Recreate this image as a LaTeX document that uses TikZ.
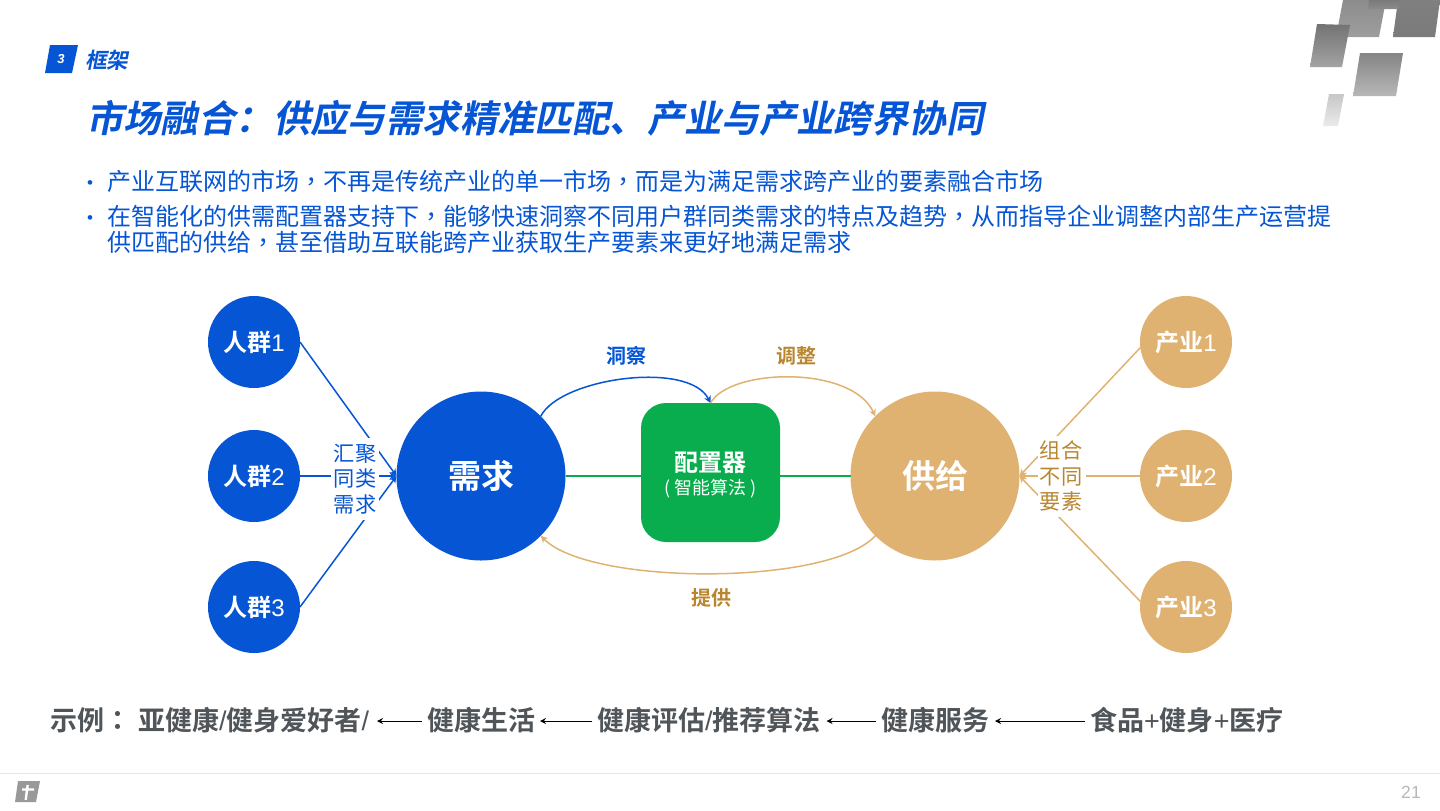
\documentclass[tikz,border=0pt]{standalone}
\usepackage{fontspec}
\usetikzlibrary{arrows.meta}
\setmainfont{Liberation Sans}
\newfontfamily\cjk{Noto Sans CJK SC}
\newfontfamily\cjkbf{Noto Sans CJK SC Bold}
\newfontfamily\cjkit[FakeSlant=0.2]{Noto Sans CJK SC Bold}
\newfontfamily\cjktc{Noto Sans CJK TC}
\newfontfamily\cjktcbf{Noto Sans CJK TC Bold}
\newfontfamily\lat{Liberation Sans}
\newcommand{\cm}{{\cjktc ，}}
\definecolor{mainblue}{HTML}{0555D4}
\definecolor{tan}{HTML}{E0B271}
\definecolor{tandark}{HTML}{B9862F}
\definecolor{mgreen}{HTML}{0AAD4E}
\definecolor{slate}{HTML}{50555A}
\tikzset{
  x=0.5pt,y=-0.5pt,
  every node/.style={inner sep=0pt,outer sep=0pt},
  hub/.style={circle,minimum size=84.5pt,text=white},
  bluelink/.style={draw=mainblue,line width=0.75pt,-{Stealth[length=3.5pt,width=3.5pt]}},
  tanlink/.style={draw=tan,line width=0.75pt,-{Stealth[length=3.5pt,width=3.5pt]}},
  greenlink/.style={draw=mgreen,line width=1pt},
  bodytext/.style={anchor=west,text=mainblue,font=\cjk\fontsize{12}{12}\selectfont,text height=10pt,text depth=2pt},
  example/.style={anchor=west,text=slate,font=\cjkbf\fontsize{13.5}{13.5}\selectfont,text height=11.5pt,text depth=2pt},
  flow/.style={draw=black,line width=0.5pt,-{Stealth[length=3pt,width=3pt]}}
}
\begin{document}
\begin{tikzpicture}
\useasboundingbox (0,0) rectangle (1440,810);
% top-right blocks
\shade[top color=black!45,bottom color=black!38] (1343,0)--(1386,0)--(1379,37)--(1336,37)--cycle;
\shade[top color=black!55,bottom color=black!36] (1317,24)--(1350,25)--(1342,67)--(1310,67)--cycle;
\shade[top color=black!50,bottom color=black!52] (1398,0)--(1440,0)--(1435,37)--(1393,37)--cycle;
\shade[top color=black!52,bottom color=black!45] (1369,0)--(1400,0)--(1398,9)--(1368,9)--cycle;
\shade[top color=black!48,bottom color=black!28] (1360,53)--(1403,53)--(1396,96)--(1353,96)--cycle;
\shade[top color=black!22,bottom color=black!8] (1329,94)--(1344,94)--(1338,126)--(1323,126)--cycle;
% header
\fill[mainblue] (50,45)--(78,45)--(72,73)--(45,73)--cycle;
\node[text=white,font=\lat\bfseries\itshape\fontsize{6.5}{6.5}\selectfont] (num) at (61,59) {3};
\node[anchor=west,text=mainblue,font=\cjkit\fontsize{10.8}{11}\selectfont] (sec) at (85,60) {框架};
\node[anchor=west,text=mainblue,font=\cjkit\fontsize{18.7}{19}\selectfont] (title) at (86,118) {市场融合：供应与需求精准匹配、产业与产业跨界协同};
% bullets
\node[text=mainblue,font=\lat\fontsize{8.5}{8.5}\selectfont] (b1) at (90,184.5) {•};
\node[text=mainblue,font=\lat\fontsize{8.5}{8.5}\selectfont] (b2) at (90,219.5) {•};
\node[bodytext] (t1) at (107,182) {产业互联网的市场\cm 不再是传统产业的单一市场\cm 而是为满足需求跨产业的要素融合市场};
\node[bodytext] (t2) at (107,217) {在智能化的供需配置器支持下\cm 能够快速洞察不同用户群同类需求的特点及趋势\cm 从而指导企业调整内部生产运营提};
\node[bodytext] (t3) at (107,243) {供匹配的供给\cm 甚至借助互联能跨产业获取生产要素来更好地满足需求};
% nodes
\node[hub,fill=mainblue,font=\cjkbf\fontsize{16.5}{17}\selectfont] (need) at (481,476) {需求};
\node[hub,fill=tan,font=\cjkbf\fontsize{16.5}{17}\selectfont] (supply) at (935,476) {供给};
\node[fill=mgreen,rounded corners=12.5pt,minimum width=69.5pt,minimum height=69.5pt] (box) at (710.5,472.5) {};
\node[text=white,font=\cjkbf\fontsize{12}{12}\selectfont] (boxa) at (710.5,463) {配置器};
\node[text=white,font=\cjk\fontsize{9}{9}\selectfont] (boxb) at (710.5,488.5) {( 智能算法 )};
\foreach \n/\y/\t in {p1/342/1,p2/476/2,p3/607/3}
  \node[circle,fill=mainblue,minimum size=46pt,text=white] (\n) at (254,\y) {{\cjkbf\fontsize{12}{12}\selectfont 人群}{\lat\fontsize{12}{12}\selectfont\t}};
\foreach \n/\y/\t in {i1/342/1,i2/476/2,i3/607/3}
  \node[circle,fill=tan,minimum size=46pt,text=white] (\n) at (1186,\y) {{\cjkbf\fontsize{12}{12}\selectfont 产业}{\lat\fontsize{12}{12}\selectfont\t}};
% connectors
\draw[bluelink] (p1.east) -- (need.west);
\draw[bluelink] (p2.east) -- (need.west);
\draw[bluelink] (p3.east) -- (need.west);
\draw[tanlink] (i1.187) -- (supply.east);
\draw[tanlink] (i2.west) -- (supply.east);
\draw[tanlink] (i3.173) -- (supply.east);
\draw[greenlink] (need.east) -- (need.east -| box.west);
\draw[greenlink] (supply.west -| box.east) -- (supply.west);
\draw[bluelink] (need.45) .. controls (560,378) and (689,360) .. (box.north);
\draw[tanlink] (box.north) .. controls (730,368) and (852,365) .. (supply.135);
\draw[tanlink] (supply.225) .. controls (830,586) and (590,586) .. (need.315);
% side labels
\node[fill=white,minimum width=24pt,minimum height=41pt] (lmask) at (355,479) {};
\node[fill=white,minimum width=24pt,minimum height=40.5pt] (rmask) at (1062,476) {};
\node[text=mainblue,font=\cjk\fontsize{10.6}{12.8}\selectfont,align=center] (lab1) at (355,479) {汇聚\\同类\\需求};
\node[text=tandark,font=\cjk\fontsize{10.6}{12.8}\selectfont,align=center] (lab2) at (1061,476) {组合\\不同\\要素};
\node[text=mainblue,font=\cjkbf\fontsize{10}{10}\selectfont] (l3) at (626,356) {洞察};
\node[text=tandark,font=\cjkbf\fontsize{10}{10}\selectfont] (l4) at (796,356) {调整};
\node[text=tandark,font=\cjkbf\fontsize{10}{10}\selectfont] (l5) at (711,598) {提供};
% example row
\node[example] (e0) at (50,721) {示例{\cjktcbf ：}};
\node[example] (e1) at (138,721) {亚健康{\lat\mdseries /}健身爱好者{\lat\mdseries /}};
\node[example] (e2) at (427,721) {健康生活};
\node[example] (e3) at (597,721) {健康评估{\lat\mdseries /}推荐算法};
\node[example] (e4) at (881,721) {健康服务};
\node[example] (e5) at (1090,721) {食品{\lat\mdseries +}健身{\lat\mdseries +}医疗};
\draw[flow,shorten >=4pt,shorten <=2.5pt] (e2.west) -- (e1.east);
\draw[flow,shorten >=2.5pt,shorten <=2.5pt] (e3.west) -- (e2.east);
\draw[flow,shorten >=3pt,shorten <=2.5pt] (e4.west) -- (e3.east);
\draw[flow,shorten >=3pt,shorten <=2.5pt] (e5.west) -- (e4.east);
% footer
\draw[draw=black!10,line width=0.5pt] (0,773) -- (1440,773);
\fill[black!40] (18,781)--(40,781)--(36,802)--(15,802)--cycle;
\draw[white,line width=1.2pt] (27.7,785)--(25.7,800) (22,789.5)--(34,789.5);
\node[text=black!28,font=\lat\fontsize{8.8}{9}\selectfont] (pg) at (1411,792) {21};
\end{tikzpicture}
\end{document}
